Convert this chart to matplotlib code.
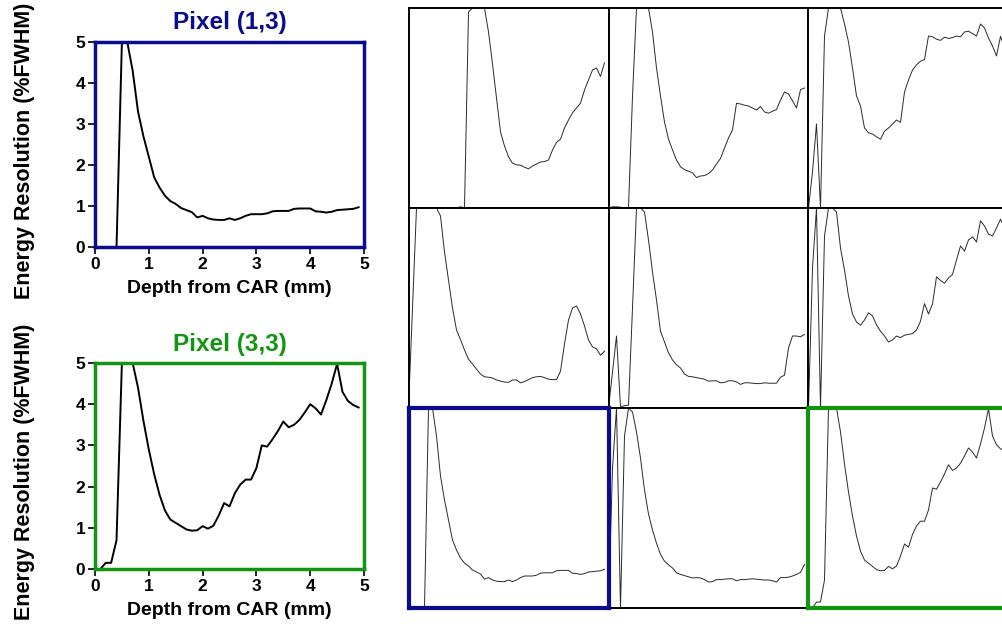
import numpy as np
import matplotlib
matplotlib.use("Agg")
import matplotlib.pyplot as plt

plt.rcParams['font.family'] = ['Liberation Sans', 'DejaVu Sans']
plt.rcParams['font.weight'] = 'bold'

# depth from CAR (mm), sampled every 0.1 mm
depth_mm = [0.0, 0.1, 0.2, 0.3, 0.4, 0.5, 0.6, 0.7, 0.8, 0.9,
            1.0, 1.1, 1.2, 1.3, 1.4, 1.5, 1.6, 1.7, 1.8, 1.9,
            2.0, 2.1, 2.2, 2.3, 2.4, 2.5, 2.6, 2.7, 2.8, 2.9,
            3.0, 3.1, 3.2, 3.3, 3.4, 3.5, 3.6, 3.7, 3.8, 3.9,
            4.0, 4.1, 4.2, 4.3, 4.4, 4.5, 4.6, 4.7, 4.8, 4.9]

# energy resolution (%FWHM) per pixel (column, row)
res_p11 = [0, 0, 0, 0, 0, 0, 0, 0, 0, 0,
           0, 0, 0, 0.03, 0, 4.9, 5, 5, 5, 5,
           4.4, 3.6, 2.75, 1.9, 1.55, 1.28, 1.12, 1.08, 1.07, 1.02,
           0.98, 1.05, 1.1, 1.15, 1.16, 1.2, 1.45, 1.64, 1.72, 2.0,
           2.2, 2.38, 2.5, 2.62, 2.95, 3.2, 3.45, 3.5, 3.29, 3.63]
res_p21 = [0, 0.03, 0.03, 0.02, 0, 0, 2.8, 5, 5, 5,
           5, 4.4, 3.5, 2.8, 2.15, 1.72, 1.45, 1.2, 1.03, 0.96,
           0.92, 0.88, 0.76, 0.8, 0.81, 0.86, 0.95, 1.1, 1.24, 1.5,
           1.75, 1.95, 2.62, 2.6, 2.57, 2.55, 2.5, 2.45, 2.54, 2.4,
           2.37, 2.42, 2.46, 2.7, 2.9, 2.85, 2.68, 2.5, 2.96, 3.0]
res_p31 = [0, 0.9, 2.1, 0, 4.3, 5, 5, 5, 5, 4.6,
           4.15, 3.5, 2.8, 2.55, 2.0, 1.88, 1.85, 1.78, 1.72, 1.92,
           2.0, 2.1, 2.2, 2.14, 2.9, 3.2, 3.45, 3.58, 3.67, 3.71,
           4.3, 4.28, 4.22, 4.19, 4.27, 4.24, 4.26, 4.3, 4.28, 4.4,
           4.42, 4.36, 4.3, 4.6, 4.5, 4.25, 4.05, 3.8, 4.29, 4.0]
res_p12 = [0, 2.5, 5, 5, 5, 5, 5, 5, 4.8, 3.9,
           3.2, 2.5, 1.95, 1.71, 1.45, 1.22, 1.1, 0.97, 0.85, 0.78,
           0.77, 0.75, 0.7, 0.67, 0.65, 0.64, 0.7, 0.7, 0.63, 0.66,
           0.71, 0.76, 0.78, 0.79, 0.76, 0.72, 0.71, 0.71, 0.92, 1.6,
           2.2, 2.5, 2.55, 2.35, 2.05, 1.7, 1.53, 1.48, 1.32, 1.42]
res_p22 = [0, 0.9, 1.8, 0.02, 0.06, 0.07, 2.5, 5, 5, 4.9,
           4.2, 3.4, 2.7, 1.92, 1.65, 1.38, 1.2, 1.08, 1.0, 0.85,
           0.79, 0.78, 0.76, 0.74, 0.72, 0.67, 0.68, 0.68, 0.63, 0.64,
           0.68, 0.68, 0.65, 0.59, 0.63, 0.63, 0.62, 0.61, 0.61, 0.63,
           0.62, 0.62, 0.62, 0.77, 0.82, 1.5, 1.8, 1.8, 1.78, 1.84]
res_p32 = [0, 3.5, 5, 0, 4.3, 5, 5, 4.9, 4.0, 3.45,
           2.8, 2.35, 2.15, 2.07, 2.2, 2.38, 2.3, 2.08, 1.92, 1.8,
           1.65, 1.7, 1.8, 1.76, 1.82, 1.84, 1.86, 1.95, 2.17, 2.61,
           2.35, 2.6, 3.28, 3.19, 3.12, 3.25, 3.34, 3.7, 4.05, 3.92,
           4.2, 4.28, 4.15, 4.68, 4.55, 4.35, 4.3, 4.5, 4.72, 4.5]
res_p13 = [0, 0, 0, 0, 0, 5, 5, 4.3, 3.3, 2.7,
           2.2, 1.7, 1.45, 1.25, 1.12, 1.05, 0.95, 0.9, 0.85, 0.72,
           0.76, 0.7, 0.67, 0.66, 0.66, 0.7, 0.66, 0.7, 0.76, 0.8,
           0.8, 0.8, 0.82, 0.87, 0.88, 0.88, 0.88, 0.93, 0.94, 0.94,
           0.94, 0.87, 0.86, 0.84, 0.86, 0.9, 0.91, 0.92, 0.93, 0.97]
res_p23 = [0, 3.5, 5, 0, 4.3, 5, 4.9, 4.4, 3.75, 2.95,
           2.35, 1.95, 1.62, 1.34, 1.17, 1.08, 1.0, 0.88, 0.84, 0.81,
           0.78, 0.75, 0.76, 0.75, 0.71, 0.65, 0.66, 0.71, 0.71, 0.72,
           0.73, 0.73, 0.68, 0.71, 0.71, 0.72, 0.73, 0.72, 0.71, 0.7,
           0.7, 0.68, 0.65, 0.76, 0.76, 0.77, 0.8, 0.84, 0.89, 1.09]
res_p33 = [0, 0, 0.15, 0.15, 0.7, 5, 5, 5, 4.4, 3.6,
           2.9, 2.3, 1.8, 1.42, 1.2, 1.12, 1.04, 0.96, 0.93, 0.94,
           1.04, 0.98, 1.05, 1.3, 1.6, 1.52, 1.84, 2.05, 2.17, 2.17,
           2.45, 3.0, 2.97, 3.15, 3.35, 3.58, 3.44, 3.5, 3.62, 3.8,
           4.0, 3.9, 3.75, 4.1, 4.5, 4.98, 4.3, 4.08, 3.98, 3.92]

grid_rows = [[res_p11, res_p21, res_p31],
             [res_p12, res_p22, res_p32],
             [res_p13, res_p23, res_p33]]

BLUE = '#0b0b8e'
GREEN = '#129612'
W, H = 1003, 627

fig = plt.figure(figsize=(W / 100, H / 100), dpi=100)


def px_axes(left, top, width, height):
    # axes placed by pixel box (origin top-left)
    return fig.add_axes([left / W, 1 - (top + height) / H, width / W, height / H])


def big_panel(top, bottom, data, color, title):
    ax = px_axes(95, top, 269, bottom - top)
    ax.plot(depth_mm, data, color='black', lw=1.4)
    ax.set_xlim(0, 5)
    ax.set_ylim(0, 5)
    ax.set_xticks([0, 1, 2, 3, 4, 5])
    ax.set_yticks([0, 1, 2, 3, 4, 5])
    ax.tick_params(direction='out', length=5, width=1.2, labelsize=12.5, pad=2)
    for s in ax.spines.values():
        s.set_color(color)
        s.set_linewidth(2.5)
    ax.set_title(title, color=color, fontsize=17.5, fontweight='bold', pad=9)
    ax.set_xlabel('Depth from CAR (mm)', fontsize=14, fontweight='bold', labelpad=6)
    return ax


big_panel(42, 247, res_p13, BLUE, 'Pixel (1,3)')
big_panel(363, 569, res_p33, GREEN, 'Pixel (3,3)')

fig.text(25 / W, 1 - 151 / H, 'Energy Resolution (%FWHM)', rotation=90,
         ha='center', va='center', fontsize=15.5, fontweight='bold')
fig.text(25 / W, 1 - 472 / H, 'Energy Resolution (%FWHM)', rotation=90,
         ha='center', va='center', fontsize=15.5, fontweight='bold')

# 3x3 map of all pixels; highlighted cells drawn last so their frames sit on top
cells = []
for r in range(3):
    for c in range(3):
        cells.append((r, c))
cells.sort(key=lambda rc: (rc[0] == 2 and rc[1] != 1))
for r, c in cells:
    ax = px_axes(408.5 + 200 * c, 8 + 200 * r, 200, 200)
    ax.plot(depth_mm, grid_rows[r][c], color='#2a2a2a', lw=0.7)
    ax.set_xlim(0, 5)
    ax.set_ylim(0, 5)
    ax.set_xticks([])
    ax.set_yticks([])
    edge, lw = 'black', 1.4
    if (r, c) == (2, 0):
        edge, lw = BLUE, 3
    elif (r, c) == (2, 2):
        edge, lw = GREEN, 3
    for s in ax.spines.values():
        s.set_color(edge)
        s.set_linewidth(lw)

fig.savefig('out.png', dpi=100)
